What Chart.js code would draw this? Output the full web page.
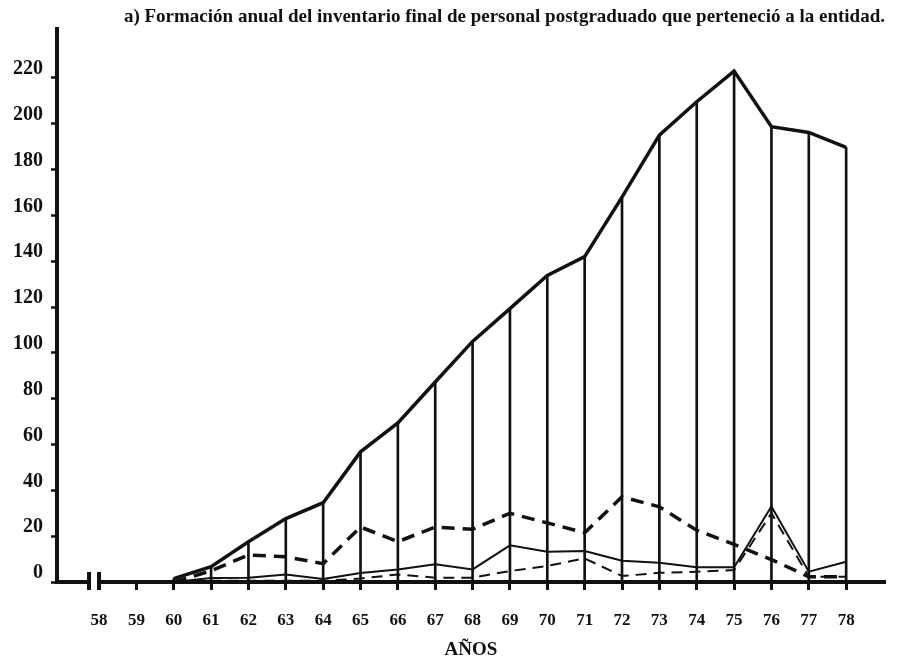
<!DOCTYPE html>
<html>
<head>
<meta charset="utf-8">
<script src="https://cdn.jsdelivr.net/npm/chart.js@4.4.1/dist/chart.umd.min.js"></script>
<style>
  body { margin: 0; background: #fff; }
  #wrap { width: 909px; height: 661px; }
</style>
</head>
<body>
<div id="wrap"><canvas id="chart"></canvas></div>
<script>
const years = [60, 61, 62, 63, 64, 65, 66, 67, 68, 69, 70, 71, 72, 73, 74, 75, 76, 77, 78];
const total = [1.5, 6.7, 17.6, 27.7, 34.6, 56.8, 69.4, 87.3, 105, 119.3, 133.8, 142, 168, 195, 209.6, 223, 198.7, 196.2, 189.7];
const dashedThick = [0, 4.9, 11.8, 11, 8, 24, 17.6, 24, 23, 30, 25.8, 21.5, 37.2, 32.8, 22.6, 16.4, 9.8, 2.3, 2.3];
const solidThin = [0, 1.7, 1.9, 3.3, 1.3, 3.9, 5.5, 7.7, 5.5, 16, 13.2, 13.5, 9.3, 8.4, 6.4, 6.4, 33, 4.5, 8.8];
const dashedThin = [0, 0.5, 0.5, 0.5, 0.5, 1.5, 3.3, 1.9, 1.9, 4.8, 7, 10.3, 2.6, 4, 4.5, 5.2, 30, 2.3, 2.3];
const xTickValues = [58, 59, 60, 61, 62, 63, 64, 65, 66, 67, 68, 69, 70, 71, 72, 73, 74, 75, 76, 77, 78];
const yTickValues = [0, 20, 40, 60, 80, 100, 120, 140, 160, 180, 200, 220];
const titleText = 'a) Formación anual del inventario final de personal postgraduado que perteneció a la entidad.';
const xTitle = 'AÑOS';

const ink = '#111';
const serif = "'Liberation Serif', 'DejaVu Serif', serif";

const pts = arr => years.map((x, i) => ({ x: x, y: arr[i] }));

// broken axis mark at the start of the x axis
const axisBreak = {
  id: 'axisBreak',
  afterDraw(chart) {
    const ctx = chart.ctx;
    const x = chart.scales.x.getPixelForValue(58) - 5;
    const y = chart.scales.y.getPixelForValue(0);
    ctx.save();
    ctx.fillStyle = '#fff';
    ctx.fillRect(x - 3, y - 5, 6, 10);
    ctx.fillStyle = ink;
    ctx.fillRect(x - 7, y - 10, 4, 18);
    ctx.fillRect(x + 3, y - 10, 4, 18);
    ctx.restore();
  }
};

new Chart(document.getElementById('chart'), {
  data: {
    datasets: [
      {
        type: 'line', data: pts(total), borderColor: ink, borderWidth: 3.5,
        pointRadius: 0, tension: 0, order: 1
      },
      {
        type: 'line', data: pts(dashedThick), borderColor: ink, borderWidth: 3.5,
        borderDash: [13, 8], pointRadius: 0, tension: 0, order: 2
      },
      {
        type: 'line', data: pts(solidThin), borderColor: ink, borderWidth: 2,
        pointRadius: 0, tension: 0, order: 3
      },
      {
        type: 'line', data: pts(dashedThin), borderColor: ink, borderWidth: 2,
        borderDash: [11, 7], pointRadius: 0, tension: 0, order: 4
      },
      {
        type: 'bar', data: pts(total), backgroundColor: ink,
        barThickness: 2, order: 10
      }
    ]
  },
  options: {
    responsive: true,
    maintainAspectRatio: false,
    animation: false,
    layout: { padding: { left: 0, right: 24, top: 0, bottom: 0 } },
    plugins: {
      legend: { display: false },
      tooltip: { enabled: false },
      title: {
        display: true, text: titleText, align: 'end', color: ink,
        font: { family: serif, size: 19, weight: 'bold', lineHeight: 1.1 },
        padding: { top: 7, bottom: 1 }
      }
    },
    scales: {
      x: {
        type: 'linear', min: 56.875, max: 79.04, offset: false,
        afterBuildTicks: s => { s.ticks = xTickValues.map(v => ({ value: v })); },
        afterFit: s => { s.height = 79; },
        border: { color: ink, width: 4 },
        grid: {
          drawOnChartArea: false, offset: false, tickLength: 8, tickWidth: 3,
          tickColor: c => (c.tick && c.tick.value === 58) ? 'rgba(0,0,0,0)' : ink
        },
        ticks: {
          color: ink, padding: 20, maxRotation: 0, autoSkip: false,
          font: { family: serif, size: 17, weight: 'bold' },
          callback: v => String(v)
        },
        title: {
          display: true, text: xTitle, color: ink,
          font: { family: serif, size: 19, weight: 'bold' },
          padding: { top: 0, bottom: 0 }
        }
      },
      y: {
        type: 'linear', min: 0, max: 241.4,
        afterBuildTicks: s => { s.ticks = yTickValues.map(v => ({ value: v })); },
        afterFit: s => { s.width = 57; },
        border: { color: ink, width: 4 },
        grid: { drawOnChartArea: false, tickLength: 6, tickWidth: 2.5, tickColor: ink },
        ticks: {
          color: ink, padding: 8, labelOffset: -9,
          font: { family: serif, size: 20, weight: 'bold' },
          callback: v => String(v)
        }
      }
    }
  },
  plugins: [axisBreak]
});
</script>
</body>
</html>
